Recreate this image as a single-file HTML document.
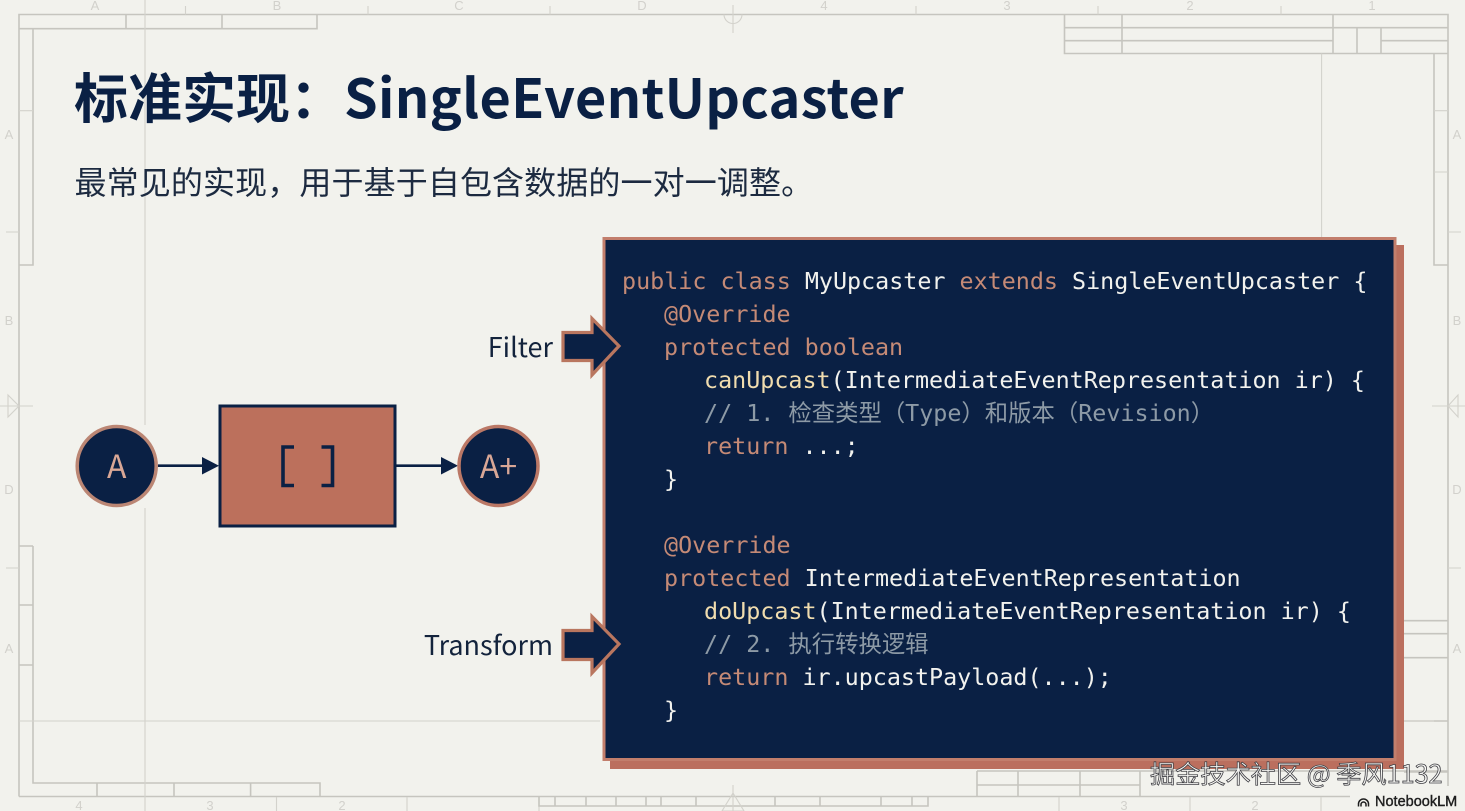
<!DOCTYPE html>
<html><head><meta charset="utf-8">
<style>
html,body{margin:0;padding:0;background:#f2f2ed;width:1465px;height:811px;overflow:hidden}
svg{display:block}
.cad{fill:none;stroke:#c6c5bf;stroke-width:1.6}
.thin{fill:none;stroke:#d3d2cc;stroke-width:1.1}
.lab{font-family:"Liberation Sans",sans-serif;font-size:13px;fill:#d2d1cc;text-anchor:middle}
.code{font-family:"DejaVu Sans Mono","Noto Sans CJK SC",monospace;font-size:23.37px;fill:#f2f2ee}
.k{fill:#c58a76}.m{fill:#f0dcae}.c{fill:#8d9aa6}
</style></head><body>
<svg width="1465" height="811" viewBox="0 0 1465 811" xmlns="http://www.w3.org/2000/svg">
<rect width="1465" height="811" fill="#f2f2ed"/>
<!-- drawing frame -->
<path class="cad" d="M19 796.5V14.5H1448V786M19 796.5H1350"/>
<path class="cad" d="M19 28.7H33V265H19M33 28.7H317V14.5M126 14.5V28.7M222 14.5V28.7"/>
<path class="cad" d="M33 546H19M33 546V783H320V796.5M97 783V796.5M174 783V796.5M250.6 783V796.5M19 605H33M19 665H33"/>
<path class="cad" d="M1064.5 14.5V53.5H1448M1064.5 27.7H1448M1064.5 40.7H1333M1381 40.7H1448M1122 14.5V53.5M1333 14.5V53.5M1357 27.7V53.5M1381 27.7V53.5"/>
<path class="cad" d="M1434 53.5V265H1448"/>
<path class="cad" d="M1404 620.7H1448M1404 633.7H1448M1404 657.7H1448M1404 721H1448M1404 772H1448"/>
<path class="cad" d="M977 771H1448M977 785H1140M977 771V796.5M1018 771V796.5M1080 771V796.5M1140 771V796.5"/>
<path class="thin" d="M145 0V425M145 508V797M1321.6 53.5V238M19 721H600M1404 721H1434M19 110.7H33M1434 110.7H1448M1434 172H1448"/>
<!-- outer ticks -->
<path class="thin" d="M185.5 6V14.5M368 6V14.5M550 6V14.5M916 6V14.5M1098 6V14.5M1281 6V14.5M6 232H19M1448 232H1461M6 568H19M1448 568H1461M145 797V811M276.5 797V811M407 797V811M539 797V811M1059 797V811M1190 797V811M1321 797V811"/>
<path class="cad" d="M539 797V806H928V797M555 797V806M586 797V806M616 797V806M646 797V806M661 797V806M696 797V806M775 797V806M820 797V806M881 797V806M912 797V806"/>
<!-- center marks -->
<path class="thin" d="M733 5V33M0 406H33M1432 406H1465M733 785V811"/>
<path class="thin" d="M724 14.5A9 9 0 0 0 742 14.5"/>
<path class="thin" d="M8 395L19 406L8 417ZM1458 395L1448 406L1458 417ZM722 811L733 793L744 811Z"/>
<g class="lab">
<text x="95" y="10">A</text><text x="277" y="10">B</text><text x="459" y="10">C</text><text x="642" y="10">D</text>
<text x="824" y="10">4</text><text x="1007" y="10">3</text><text x="1190" y="10">2</text><text x="1372" y="10">1</text>
<text x="9" y="139">A</text><text x="9" y="325">B</text><text x="9" y="494">D</text><text x="9" y="653">A</text>
<text x="1457" y="139">A</text><text x="1457" y="325">B</text><text x="1457" y="494">D</text><text x="1457" y="653">A</text>
<text x="79" y="810">4</text><text x="210" y="810">3</text><text x="342" y="810">2</text><text x="1124" y="810">3</text><text x="1255" y="810">2</text>
</g>

<!-- headings -->
<text x="74" y="118" font-family="'Noto Sans CJK SC','Liberation Sans',sans-serif" font-weight="700" font-size="54" fill="#0a2044">标准实现：<tspan letter-spacing="0.3">SingleEventUpcaster</tspan></text>
<text x="74.500" y="194" font-family="'Noto Sans CJK SC','Liberation Sans',sans-serif" font-weight="400" font-size="32" letter-spacing="0.12" fill="#1c2a40">最常见的实现，用于基于自包含数据的一对一调整。</text>

<!-- flow -->
<circle cx="116.7" cy="466" r="39.5" fill="#0a2044" stroke="#bb8674" stroke-width="3.5"/>
<text x="116.7" y="478" text-anchor="middle" font-family="'Noto Sans CJK SC',sans-serif" font-size="32" font-weight="400" fill="#d9a796">A</text>
<rect x="220" y="406" width="175" height="120" fill="#bc705c" stroke="#0a2044" stroke-width="3"/>
<path d="M294 447H283V485.5H294M321.5 447H332.5V485.5H321.5" fill="none" stroke="#0a2044" stroke-width="3.6"/>
<path d="M158 465.7H204" stroke="#0a2044" stroke-width="2.6"/><path d="M202 457L219 465.7L202 474.5Z" fill="#0a2044"/>
<path d="M396 465.7H443" stroke="#0a2044" stroke-width="2.6"/><path d="M441 457L458 465.7L441 474.5Z" fill="#0a2044"/>
<circle cx="498.5" cy="466" r="39.5" fill="#0a2044" stroke="#bb7866" stroke-width="3.5"/>
<text x="498.5" y="478" text-anchor="middle" font-family="'Noto Sans CJK SC',sans-serif" font-size="32" font-weight="400" fill="#d9a796">A+</text>

<!-- code panel -->
<rect x="610" y="245" width="794" height="524" fill="#bb6f5e"/>
<rect x="604" y="238.5" width="791" height="521" fill="#0a2044" stroke="#c27e6c" stroke-width="3"/>

<!-- callouts -->
<path d="M563 332.5H592V318.5L619 346L592 375V360.500H563Z" fill="#0a2044" stroke="#b9765f" stroke-width="3.2"/>
<path d="M563 630.500H592V616.500L619 644L592 673V659.500H563Z" fill="#0a2044" stroke="#b9765f" stroke-width="3.2"/>
<text x="553" y="357" text-anchor="end" font-family="'Noto Sans CJK SC',sans-serif" font-size="27" fill="#13233c">Filter</text>
<text x="553" y="655" text-anchor="end" font-family="'Noto Sans CJK SC',sans-serif" font-size="27" fill="#13233c">Transform</text>

<!-- code -->
<g class="code" transform="translate(0,0.800)">
<text x="622" y="288"><tspan class="k">public class</tspan> MyUpcaster <tspan class="k">extends</tspan> SingleEventUpcaster {</text>
<text x="664" y="321" class="k">@Override</text>
<text x="664" y="354"><tspan class="k">protected boolean</tspan></text>
<text x="704" y="387"><tspan class="m">canUpcast</tspan>(IntermediateEventRepresentation ir) {</text>
<text x="704" y="420" class="c">// 1. 检查类型（Type）和版本（Revision）</text>
<text x="704" y="453"><tspan class="k">return</tspan> ...;</text>
<text x="664" y="486">}</text>
<text x="664" y="552" class="k">@Override</text>
<text x="664" y="585"><tspan class="k">protected</tspan> IntermediateEventRepresentation</text>
<text x="704" y="618"><tspan class="m">doUpcast</tspan>(IntermediateEventRepresentation ir) {</text>
<text x="704" y="651" class="c">// 2. 执行转换逻辑</text>
<text x="704" y="684"><tspan class="k">return</tspan> ir.upcastPayload(...);</text>
<text x="664" y="717">}</text>
</g>

<!-- watermark -->
<text x="1150" y="783" font-family="'Noto Sans CJK SC','Liberation Sans',sans-serif" font-size="25.200" fill="#f8f8f5" stroke="#3f3f44" stroke-width="0.8">掘金技术社区 @ 季风1132</text>

<!-- NotebookLM badge -->
<rect x="1352" y="792" width="113" height="19" fill="#f2f2ed"/>
<path d="M1358.500 806.500V804A5 5 0 0 1 1368.500 804V806.500M1361 806.500V804.500A2.500 2.500 0 0 1 1366 804.500V806.500" fill="none" stroke="#1e1e1e" stroke-width="1.5"/>
<text x="1375" y="806" font-family="'Liberation Sans',sans-serif" font-size="14.500" stroke="#1e1e1e" stroke-width="0.4" fill="#1e1e1e">NotebookLM</text>
</svg>
</body></html>
